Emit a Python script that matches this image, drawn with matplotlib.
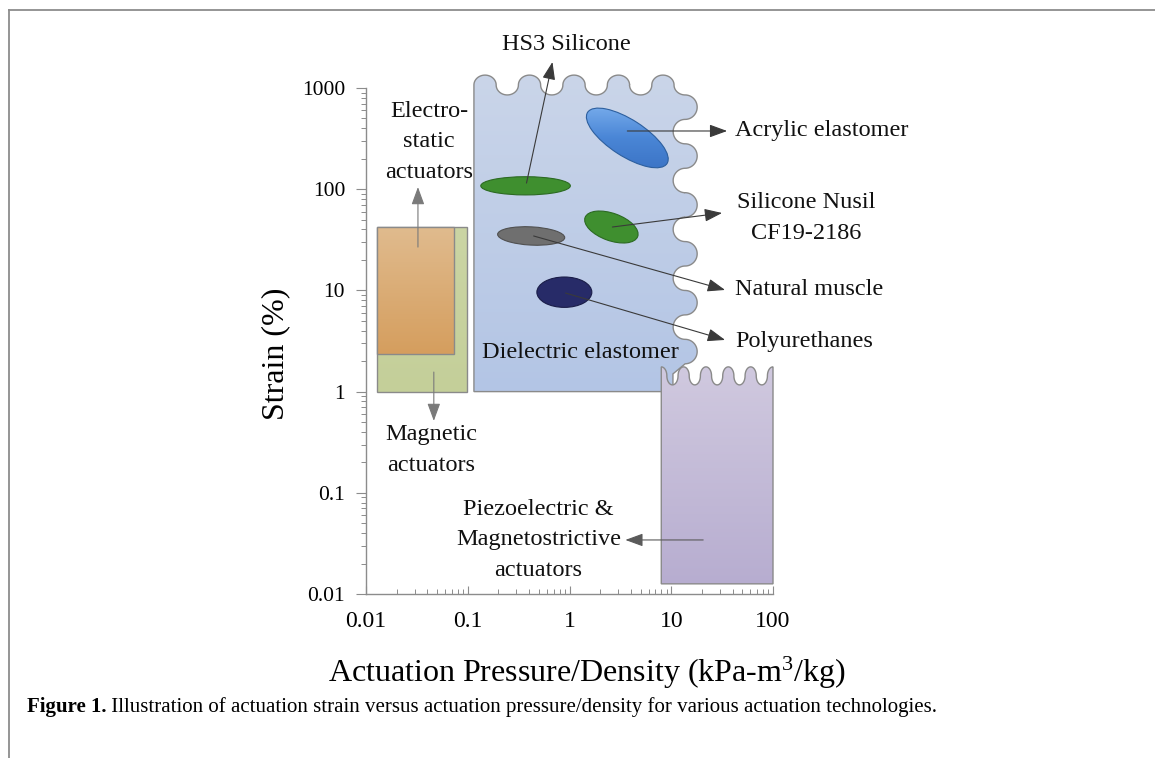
import numpy as np
import matplotlib
matplotlib.use('Agg')
import matplotlib.pyplot as plt
import matplotlib.transforms as mtransforms
from matplotlib.patches import Polygon, Ellipse
from matplotlib.lines import Line2D
from matplotlib.colors import LinearSegmentedColormap
from matplotlib.ticker import LogLocator, NullFormatter

plt.rcParams['font.family'] = ['Liberation Serif', 'DejaVu Serif']
plt.rcParams['mathtext.fontset'] = 'custom'
plt.rcParams['mathtext.rm'] = 'Liberation Serif'
plt.rcParams['mathtext.default'] = 'regular'

# ---------------- data ----------------
x_lim = [0.01, 100]
y_lim = [0.01, 1000]
x_ticks = [0.01, 0.1, 1, 10, 100]
x_tick_labels = ['0.01', '0.1', '1', '10', '100']
y_ticks = [0.01, 0.1, 1, 10, 100, 1000]
y_tick_labels = ['0.01', '0.1', '1', '10', '100', '1000']

# actuator regions (pressure/density range, strain range)
magnetic_x = [0.0128, 0.098]
magnetic_y = [1.0, 42.3]
electro_x = [0.0128, 0.073]
electro_y = [2.36, 42.3]
dielectric_x = [0.115, 13.7]
dielectric_y = [1.0, 1070.0]
piezo_x = [7.98, 100.0]
piezo_y = [0.0126, 1.43]

# materials (centre pressure/density, centre strain, spans in decades, tilt)
mat_names = ['Acrylic elastomer', 'HS3 Silicone', 'Silicone Nusil', 'Natural muscle', 'Polyurethanes']
mat_x = [3.7, 0.37, 2.58, 0.42, 0.89]
mat_y = [321.0, 108.0, 42.3, 34.5, 9.6]
mat_w = [0.93, 0.88, 0.55, 0.66, 0.54]
mat_h = [0.36, 0.18, 0.27, 0.18, 0.30]
mat_angle = [-33, 0, -20, -3, 0]
mat_colors = ['#4a88d6', '#3f8f2f', '#3f8f2f', '#6f6f6f', '#272b68']
mat_edges = ['#2d5f9e', '#2c6a22', '#2c6a22', '#505050', '#1a1d48']

# annotations
ann_text = ['HS3 Silicone', 'Acrylic elastomer', 'Silicone Nusil\nCF19-2186',
            'Natural muscle', 'Polyurethanes', 'Electro-\nstatic\nactuators',
            'Magnetic\nactuators', 'Piezoelectric &\nMagnetostrictive\nactuators']
ann_tx = [0.935, 42.4, 211.0, 42.4, 42.4, 0.0415, 0.0434, 0.497]
ann_ty = [2661.0, 376.0, 51.9, 10.1, 3.1, 293.0, 0.265, 0.0342]
arr_x0 = [0.378, 3.7, 2.64, 0.444, 0.914, 0.0324, 0.0464, 20.6]
arr_y0 = [115.0, 376.0, 42.3, 34.5, 9.42, 26.8, 1.56, 0.0342]
arr_x1 = [0.68, 35.4, 31.6, 33.8, 33.8, 0.0324, 0.0464, 3.54]
arr_y1 = [1807.0, 376.0, 58.2, 10.1, 3.24, 105.0, 0.513, 0.0342]
ann_ha = ['center', 'left', 'center', 'left', 'left', 'center', 'center', 'center']
arr_colors = ['#3a3a3a'] * 5 + ['#7a7a7a', '#7a7a7a', '#5a5a5a']

region_label = 'Dielectric elastomer'
region_label_xy = (1.28, 2.46)

# ---------------- figure ----------------
W, H = 1155, 758
fig = plt.figure(figsize=(W / 100, H / 100), dpi=100)
ax = fig.add_axes([366 / W, 1 - 594 / H, (773 - 366) / W, (594 - 88) / H])
ax.set_xscale('log')
ax.set_yscale('log')
ax.set_xlim(x_lim)
ax.set_ylim(y_lim)
ax.set_autoscale_on(False)
ax.patch.set_visible(False)
for s in ['top', 'right']:
    ax.spines[s].set_visible(False)
for s in ['left', 'bottom']:
    ax.spines[s].set_color('#8c8c8c')
    ax.spines[s].set_linewidth(1.0)

ax.set_xticks(x_ticks, x_tick_labels)
ax.set_yticks(y_ticks, y_tick_labels)
for axis in (ax.xaxis, ax.yaxis):
    axis.set_minor_locator(LogLocator(base=10, subs=np.arange(2, 10), numticks=30))
    axis.set_minor_formatter(NullFormatter())
ax.tick_params(axis='x', which='major', direction='in', length=6, width=0.8,
               color='#8c8c8c', labelsize=17, pad=12)
ax.tick_params(axis='x', which='minor', direction='in', length=3.5, width=0.7, color='#8c8c8c')
ax.tick_params(axis='y', which='major', direction='out', length=7, width=0.8,
               color='#8c8c8c', labelsize=15.5, pad=8)
ax.tick_params(axis='y', which='minor', direction='out', length=3.5, width=0.7, color='#8c8c8c')

# decade-space transform (log10 x, log10 y) -> display
lx0, lx1 = np.log10(x_lim)
ly0, ly1 = np.log10(y_lim)
T = mtransforms.Affine2D().translate(-lx0, -ly0).scale(1 / (lx1 - lx0), 1 / (ly1 - ly0)) + ax.transAxes


def gradient_patch(verts, c_top, c_bot, z, edge='#8a8a8a', lw=1.0):
    verts = np.asarray(verts)
    patch = Polygon(verts, closed=True, transform=T, facecolor='none',
                    edgecolor=edge, lw=lw, zorder=z + 0.1, clip_on=False)
    ax.add_patch(patch)
    cmap = LinearSegmentedColormap.from_list('g', [c_top, c_bot])
    grad = np.linspace(0, 1, 256).reshape(-1, 1)
    u0, v0 = verts.min(axis=0)
    u1, v1 = verts.max(axis=0)
    im = ax.imshow(grad, cmap=cmap, extent=[u0, u1, v0, v1], origin='upper',
                   aspect='auto', transform=T, zorder=z, interpolation='bilinear')
    im.set_clip_path(patch)
    im.set_clip_box(fig.bbox)
    return patch


def rect_verts(xr, yr):
    u0, u1 = np.log10(xr)
    v0, v1 = np.log10(yr)
    return [(u0, v0), (u1, v0), (u1, v1), (u0, v1)]


def arc(uc, vc, rx, ry, t0, t1, n=40):
    t = np.linspace(t0, t1, n)
    return list(zip(uc + rx * np.cos(t), vc + ry * np.sin(t)))


# magnetic and electrostatic
gradient_patch(rect_verts(magnetic_x, magnetic_y), '#cbd5a4', '#c4cf99', 1)
gradient_patch(rect_verts(electro_x, electro_y), '#e0bb8e', '#d59e5e', 2)

# dielectric elastomer region with scalloped edges
u_l, u_r = np.log10(dielectric_x)
v_b, v_t = np.log10(dielectric_y)
P_top = (u_r - u_l) / 4.75
rx_t, A_top = P_top / 4, 0.098
blue = [(u_l, v_b)]
for k in range(9):
    uc = u_l + rx_t + k * 2 * rx_t
    if k % 2 == 0:
        blue += arc(uc, v_t, rx_t, A_top, np.pi, 0)
    else:
        blue += arc(uc, v_t, rx_t, A_top, np.pi, 2 * np.pi)
blue += arc(u_r, v_t, rx_t, A_top, np.pi, 1.5 * np.pi)
v_s = v_t - A_top
Q_r = 0.483
ry_r, B_r = Q_r / 4, 0.118
for k in range(11):
    vc = v_s - ry_r - k * 2 * ry_r
    if k % 2 == 0:
        blue += arc(u_r, vc, B_r, ry_r, 0.5 * np.pi, -0.5 * np.pi)
    else:
        blue += arc(u_r, vc, B_r, ry_r, 0.5 * np.pi, 1.5 * np.pi)
v_e = v_s - 22 * ry_r
blue += [(u_r - 0.12, v_e - 0.1), (u_r - 0.12, v_b)]
gradient_patch(blue, '#cad5e9', '#b3c5e5', 1)

# piezoelectric region
pu_l, pu_r = np.log10(piezo_x)
pv_b, pv_t = np.log10(piezo_y)
rx_p, A_p = (pu_r - pu_l) / 20, 0.089
purple = [(pu_l, pv_b)]
purple += arc(pu_l, pv_t, rx_p, A_p, 0.5 * np.pi, 0, 15)
for k in range(9):
    uc = pu_l + 2 * rx_p * (k + 1)
    if k % 2 == 0:
        purple += arc(uc, pv_t, rx_p, A_p, np.pi, 2 * np.pi)
    else:
        purple += arc(uc, pv_t, rx_p, A_p, np.pi, 0)
purple += arc(pu_r, pv_t, rx_p, A_p, np.pi, 0.5 * np.pi, 15)
purple += [(pu_r, pv_b)]
gradient_patch(purple, '#d0c9df', '#b7add0', 3)

# material ellipses
for i in range(len(mat_names)):
    e = Ellipse((np.log10(mat_x[i]), np.log10(mat_y[i])), mat_w[i], mat_h[i],
                angle=mat_angle[i], transform=T, facecolor=mat_colors[i],
                edgecolor=mat_edges[i], lw=0.8, zorder=4, clip_on=False)
    ax.add_patch(e)
    if i == 0:
        e.set_facecolor('none')
        cmap = LinearSegmentedColormap.from_list('ac', ['#7cb0ee', '#4a86d6', '#3a72c4'])
        grad = np.linspace(0, 1, 256).reshape(-1, 1)
        cu, cv = np.log10(mat_x[i]), np.log10(mat_y[i])
        im = ax.imshow(grad, cmap=cmap, extent=[cu - 0.5, cu + 0.5, cv - 0.35, cv + 0.35],
                       origin='upper', aspect='auto', transform=T, zorder=3.9)
        im.set_clip_path(e)
        im.set_clip_box(fig.bbox)

# arrows and labels
for i in range(len(ann_text)):
    ax.annotate('', xy=(arr_x1[i], arr_y1[i]), xytext=(arr_x0[i], arr_y0[i]),
                xycoords='data', textcoords='data',
                arrowprops=dict(arrowstyle='-|>,head_length=0.6,head_width=0.22',
                                mutation_scale=18, lw=0.8, color=arr_colors[i],
                                shrinkA=0, shrinkB=0),
                zorder=5, annotation_clip=False)
    ax.text(ann_tx[i], ann_ty[i], ann_text[i], ha=ann_ha[i], va='center',
            fontsize=17.5, linespacing=1.6, color='#111111', zorder=6, clip_on=False,
            multialignment='center')

ax.text(region_label_xy[0], region_label_xy[1], region_label, ha='center', va='center',
        fontsize=17.5, color='#111111', zorder=6)

# axis labels
fig.text(276 / W, 1 - 354 / H, 'Strain (%)', rotation=90, ha='center', va='center', fontsize=23)
fig.text(587 / W, 1 - 673 / H, 'Actuation Pressure/Density (kPa-m$^3$/kg)',
         ha='center', va='center', fontsize=23)

# frame lines
fig.add_artist(Line2D([9 / W, 9 / W], [0, 1 - 10 / H], transform=fig.transFigure,
                      color='#8c8c8c', lw=1.3))
fig.add_artist(Line2D([9 / W, 1], [1 - 10 / H, 1 - 10 / H], transform=fig.transFigure,
                      color='#8c8c8c', lw=1.3))

# caption
r = fig.canvas.get_renderer()
size0 = 12
t1 = fig.text(27 / W, 1 - 707 / H, 'Figure 1.', fontsize=size0, fontweight='bold', va='center')
t2 = fig.text(0, 1 - 707 / H, ' Illustration of actuation strain versus actuation pressure/density for various actuation technologies.',
              fontsize=size0, va='center')
w1 = t1.get_window_extent(r).width
w2 = t2.get_window_extent(r).width
size = size0 * 909 / (w1 + w2)
t1.set_fontsize(size)
t2.set_fontsize(size)
w1 = t1.get_window_extent(r).width
t2.set_x((27 + w1) / W)

fig.savefig('out.png', dpi=100)
